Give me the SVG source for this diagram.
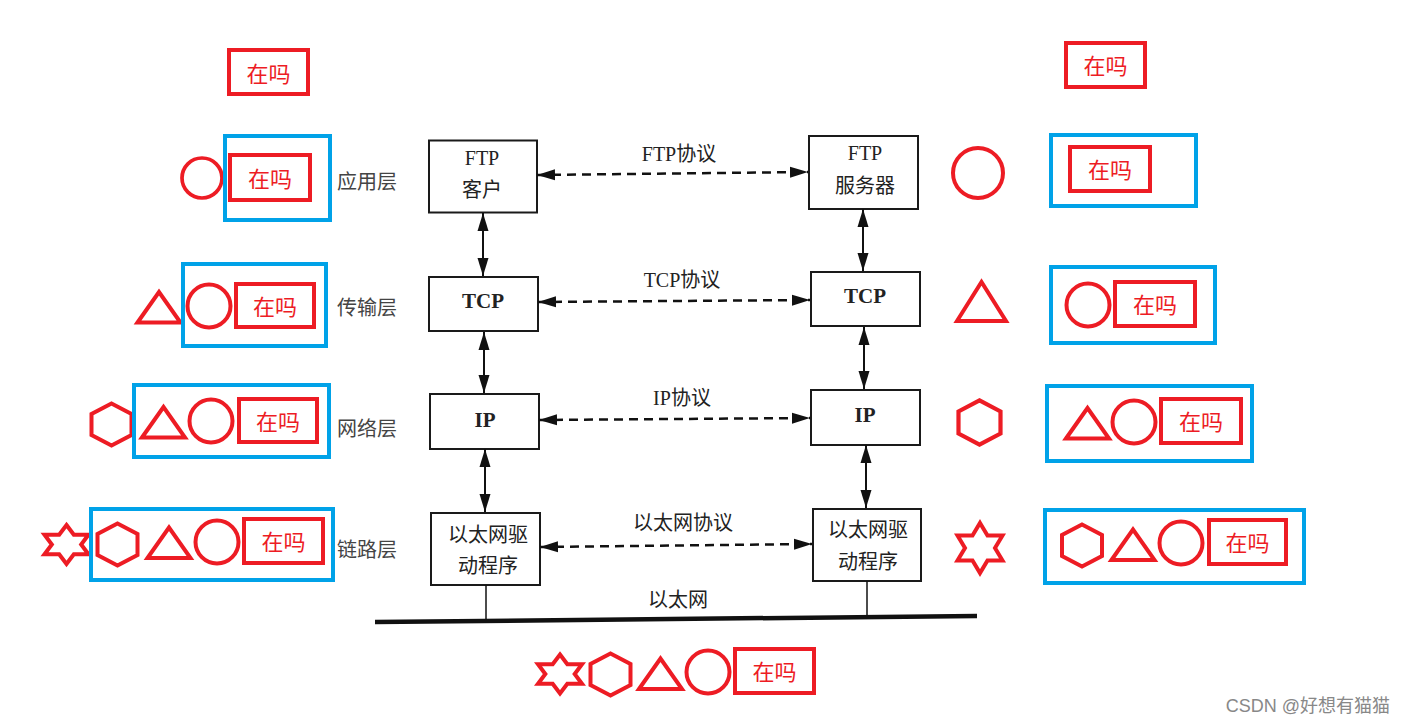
<svg xmlns="http://www.w3.org/2000/svg" xmlns:xlink="http://www.w3.org/1999/xlink" width="1406" height="725" viewBox="0 0 1406 725">
  <style>
    .red { fill: none; stroke: #ed1c24; stroke-width: 4; }
    .blue { fill: none; stroke: #00a2e8; stroke-width: 4; }
    .msg { fill: #ed1c24; font-family: "Noto Sans CJK SC", sans-serif; font-size: 22px; text-anchor: middle; dominant-baseline: central; }
    .box { fill: #fff; stroke: #1a1a1a; stroke-width: 2; }
    .t { fill: #222; font-family: "Liberation Serif", "Noto Sans CJK SC", serif; font-size: 20px; text-anchor: middle; dominant-baseline: central; }
    .b { font-weight: bold; font-size: 21px; }
    .layer { fill: #444; font-family: "Noto Sans CJK SC", sans-serif; font-size: 20px; text-anchor: middle; dominant-baseline: central; }
    .link { stroke: #111; stroke-width: 2; fill: none; marker-start: url(#arr); marker-end: url(#arr); }
    .dash { stroke-width: 2.5; stroke-dasharray: 9 6; }
    .wire { stroke: #111; fill: none; }
    .mark { fill: #888; font-family: "Liberation Sans", "Noto Sans CJK SC", sans-serif; font-size: 18px; text-anchor: end; dominant-baseline: central; }
  </style>
  <defs>
    <marker id="arr" markerUnits="userSpaceOnUse" markerWidth="18" markerHeight="12" refX="18" refY="6" orient="auto-start-reverse">
      <path d="M0,0.5 L18,6 L0,11.5 Z" fill="#111"/>
    </marker>
    <!-- stacked header shapes, centred on the origin -->
    <circle id="circ" r="21.5" class="red"/>
    <polygon id="tri" class="red" points="-21.5,16 0,-14.5 21.5,16"/>
    <polygon id="hex" class="red" points="0,-21 20,-10.5 20,10.5 0,21 -20,10.5 -20,-10.5"/>
    <polygon id="star" class="red" points="0,-19.5 7.33,-9.75 22,-9.75 14.67,0 22,9.75 7.33,9.75 0,19.5 -7.33,9.75 -22,9.75 -14.67,0 -22,-9.75 -7.33,-9.75"/>
  </defs>

  <rect width="1406" height="725" fill="#fff"/>

  <!-- layer names -->
  <g id="layers">
    <text class="layer" x="367" y="180">应用层</text>
    <text class="layer" x="367" y="306">传输层</text>
    <text class="layer" x="367" y="427">网络层</text>
    <text class="layer" x="367" y="548">链路层</text>
  </g>

  <!-- protocol stack nodes -->
  <g id="ftp-client">
    <rect class="box" x="429" y="140.5" width="108" height="72"/>
    <text class="t" x="482" y="158">FTP</text>
    <text class="t" x="482" y="190">客户</text>
  </g>
  <g id="ftp-server">
    <rect class="box" x="809" y="136" width="109" height="73"/>
    <text class="t" x="865" y="153">FTP</text>
    <text class="t" x="865" y="186">服务器</text>
  </g>
  <g id="tcp-client">
    <rect class="box" x="429" y="277" width="109" height="54"/>
    <text class="t b" x="483" y="301">TCP</text>
  </g>
  <g id="tcp-server">
    <rect class="box" x="811" y="272" width="109" height="54"/>
    <text class="t b" x="865" y="296">TCP</text>
  </g>
  <g id="ip-client">
    <rect class="box" x="430" y="394" width="109" height="55"/>
    <text class="t b" x="485" y="420">IP</text>
  </g>
  <g id="ip-server">
    <rect class="box" x="811" y="390" width="109" height="55"/>
    <text class="t b" x="865" y="415">IP</text>
  </g>
  <g id="eth-client">
    <rect class="box" x="431" y="513" width="109" height="72"/>
    <text class="t" x="488" y="535">以太网驱</text>
    <text class="t" x="488" y="566">动程序</text>
  </g>
  <g id="eth-server">
    <rect class="box" x="813" y="509" width="108" height="72"/>
    <text class="t" x="868" y="530">以太网驱</text>
    <text class="t" x="868" y="562">动程序</text>
  </g>

  <!-- connectors -->
  <g id="connectors">
    <line class="link dash" x1="537" y1="175" x2="808" y2="172"/>
    <line class="link dash" x1="538" y1="302" x2="810" y2="300"/>
    <line class="link dash" x1="539" y1="420" x2="810" y2="418"/>
    <line class="link dash" x1="540" y1="547" x2="812" y2="544"/>
    <line class="link" x1="483" y1="213" x2="483" y2="276"/>
    <line class="link" x1="484" y1="332" x2="484" y2="393"/>
    <line class="link" x1="485" y1="449" x2="485" y2="512"/>
    <line class="link" x1="863" y1="209" x2="863" y2="271"/>
    <line class="link" x1="864" y1="327" x2="864" y2="389"/>
    <line class="link" x1="866" y1="445" x2="866" y2="508"/>
    <line class="wire" stroke-width="1.5" x1="486" y1="585" x2="486" y2="621"/>
    <line class="wire" stroke-width="1.5" x1="867" y1="581" x2="867" y2="616"/>
    <line class="wire" stroke-width="4.5" x1="375" y1="622" x2="977" y2="616"/>
    <text class="t" x="679" y="154">FTP协议</text>
    <text class="t" x="682" y="280">TCP协议</text>
    <text class="t" x="682" y="398">IP协议</text>
    <text class="t" x="683" y="523">以太网协议</text>
    <text class="t" x="678" y="600">以太网</text>
  </g>

  <!-- sender side: data with headers added layer by layer -->
  <g id="send-app-data">
    <rect class="red" x="229" y="50" width="79" height="44"/>
    <text class="msg" x="268.5" y="72">在吗</text>
  </g>
  <g id="send-app">
    <use href="#circ" transform="translate(202,178) scale(0.93)"/>
    <rect class="blue" x="225" y="136" width="105" height="84"/>
    <rect class="red" x="230" y="155" width="80" height="45"/>
    <text class="msg" x="270" y="177">在吗</text>
  </g>
  <g id="send-tcp">
    <use href="#tri" x="159" y="306.5"/>
    <rect class="blue" x="183" y="264" width="143" height="82"/>
    <use href="#circ" x="209" y="306"/>
    <rect class="red" x="236" y="284" width="78" height="43"/>
    <text class="msg" x="275" y="305">在吗</text>
  </g>
  <g id="send-ip">
    <use href="#hex" x="111.5" y="424.5"/>
    <rect class="blue" x="134" y="385" width="195" height="72"/>
    <use href="#tri" x="163.5" y="421.5"/>
    <use href="#circ" x="211" y="421"/>
    <rect class="red" x="239" y="399" width="78" height="43"/>
    <text class="msg" x="278" y="420">在吗</text>
  </g>
  <g id="send-link">
    <use href="#star" x="66.5" y="544.5"/>
    <rect class="blue" x="91" y="509" width="242" height="71"/>
    <use href="#hex" x="117.5" y="544.5"/>
    <use href="#tri" x="169" y="542"/>
    <use href="#circ" x="217" y="542"/>
    <rect class="red" x="244" y="519" width="79" height="44"/>
    <text class="msg" x="283.5" y="540">在吗</text>
  </g>

  <!-- frame on the wire -->
  <g id="wire-frame">
    <use href="#star" x="560" y="674"/>
    <use href="#hex" x="610.5" y="674.5"/>
    <use href="#tri" x="660.5" y="673"/>
    <use href="#circ" x="708" y="672"/>
    <rect class="red" x="735" y="649" width="79" height="44"/>
    <text class="msg" x="774.5" y="670">在吗</text>
  </g>

  <!-- receiver side: headers removed layer by layer -->
  <g id="recv-app-data">
    <rect class="red" x="1066" y="43" width="79" height="44"/>
    <text class="msg" x="1105.5" y="64">在吗</text>
  </g>
  <g id="recv-app">
    <circle class="red" cx="978" cy="173" r="25"/>
    <rect class="blue" x="1051" y="135" width="145" height="71"/>
    <rect class="red" x="1070" y="147" width="80" height="44"/>
    <text class="msg" x="1110" y="168">在吗</text>
  </g>
  <g id="recv-tcp">
    <polygon class="red" points="957,321 981.5,282 1006,321"/>
    <rect class="blue" x="1051" y="267" width="164" height="76"/>
    <use href="#circ" x="1088" y="305"/>
    <rect class="red" x="1115" y="282" width="80" height="44"/>
    <text class="msg" x="1155" y="303">在吗</text>
  </g>
  <g id="recv-ip">
    <use href="#hex" transform="translate(979.5,422.5) scale(1.05)"/>
    <rect class="blue" x="1047" y="386" width="205" height="75"/>
    <use href="#tri" x="1087.5" y="422.5"/>
    <use href="#circ" x="1134" y="422"/>
    <rect class="red" x="1161" y="399" width="80" height="44"/>
    <text class="msg" x="1201" y="420">在吗</text>
  </g>
  <g id="recv-link">
    <polygon class="red" points="980,523 987.5,535.5 1002.5,535.5 995,548 1002.5,560.5 987.5,560.5 980,573 972.5,560.5 957.5,560.5 965,548 957.5,535.5 972.5,535.5"/>
    <rect class="blue" x="1045" y="510" width="259" height="73"/>
    <use href="#hex" x="1082" y="545.5"/>
    <use href="#tri" x="1133" y="544"/>
    <use href="#circ" x="1181" y="543"/>
    <rect class="red" x="1209" y="520" width="77" height="44"/>
    <text class="msg" x="1247.5" y="541">在吗</text>
  </g>

  <text class="mark" x="1390" y="706">CSDN @好想有猫猫</text>
</svg>
